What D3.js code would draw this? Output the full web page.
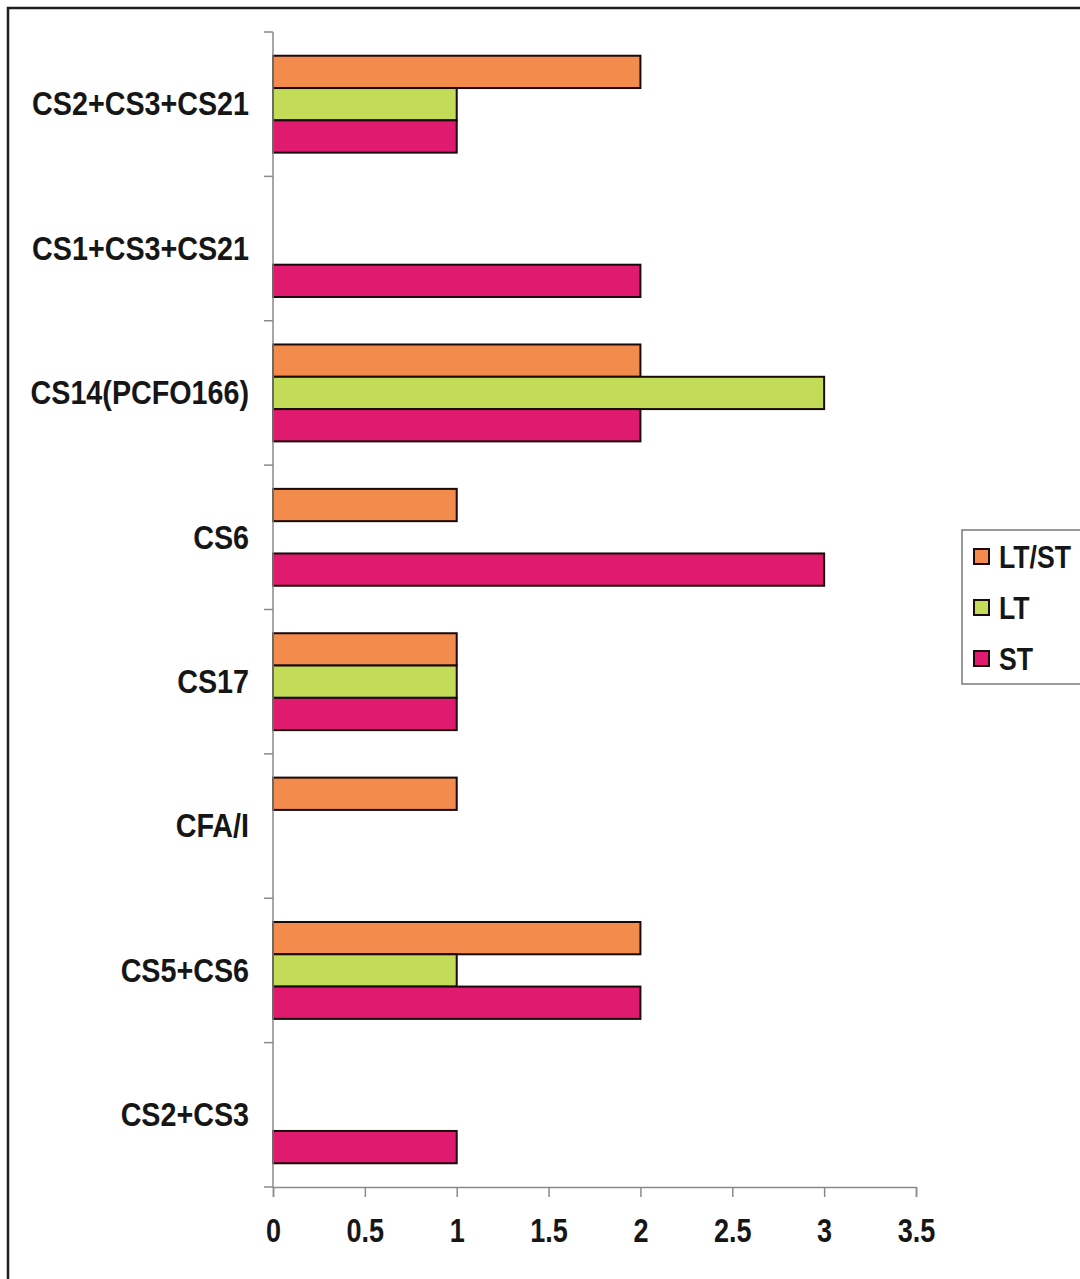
<!DOCTYPE html>
<html>
<head>
<meta charset="utf-8">
<script src="https://cdn.jsdelivr.net/npm/d3@7"></script>
<style>
  html, body { margin: 0; padding: 0; background: #fff; }
  svg { display: block; }
  text { font-family: "Liberation Sans", Arial, sans-serif; fill: #161616; font-weight: bold; }
</style>
</head>
<body>
<div id="chart"></div>
<script>
// Categories, top to bottom
const categories = ["CS2+CS3+CS21", "CS1+CS3+CS21", "CS14(PCFO166)", "CS6", "CS17", "CFA/I", "CS5+CS6", "CS2+CS3"];
// Series, drawn top to bottom inside each category
const seriesNames = ["LT/ST", "LT", "ST"];
const ltstValues = [2, 0, 2, 1, 1, 1, 2, 0];
const ltValues   = [1, 0, 3, 0, 1, 0, 1, 0];
const stValues   = [1, 2, 2, 3, 1, 0, 2, 1];
const xTicks = [0, 0.5, 1, 1.5, 2, 2.5, 3, 3.5];
const seriesColors = ["#f38b4c", "#c3dc58", "#e01a6e"];

const seriesValues = [ltstValues, ltValues, stValues];
const rows = categories.map((c, i) => ({
  category: c,
  values: seriesNames.map((s, k) => ({ series: s, value: seriesValues[k][i], color: seriesColors[k] }))
}));

const W = 1080, H = 1279;
const plot = { left: 273, right: 916, top: 32, bottom: 1187 };

const svg = d3.select("#chart").append("svg")
  .attr("width", W).attr("height", H);

svg.append("rect").attr("width", W).attr("height", H).attr("fill", "#fff");

// Outer frame
svg.append("rect")
  .attr("x", 8).attr("y", 8).attr("width", W + 20).attr("height", H + 20)
  .attr("fill", "none").attr("stroke", "#1e1e1e").attr("stroke-width", 2.5);

const x = d3.scaleLinear().domain([0, 3.5]).range([plot.left, plot.right]);
const y0 = d3.scaleBand().domain(categories).range([plot.top, plot.bottom]).paddingInner(0).paddingOuter(0);
const y1 = d3.scaleBand().domain(seriesNames).range([0, y0.bandwidth()]).paddingInner(0).paddingOuter(0.735);

// Bars
const groups = svg.append("g").selectAll("g")
  .data(rows).join("g")
  .attr("transform", d => `translate(0,${y0(d.category)})`);

groups.selectAll("rect")
  .data(d => d.values.filter(v => v.value > 0))
  .join("rect")
  .attr("x", x(0))
  .attr("y", v => y1(v.series))
  .attr("width", v => x(v.value) - x(0))
  .attr("height", y1.bandwidth())
  .attr("fill", v => v.color)
  .attr("stroke", "#1a0a0a")
  .attr("stroke-width", 2);

// Category axis: line with ticks on band boundaries
const catAxis = svg.append("g");
catAxis.append("line")
  .attr("x1", x(0)).attr("x2", x(0))
  .attr("y1", plot.top).attr("y2", plot.bottom)
  .attr("stroke", "#8a8a8a").attr("stroke-width", 1.5);
const boundaries = categories.map(c => y0(c)).concat([y0.range()[1]]);
catAxis.selectAll("line.tick")
  .data(boundaries).join("line")
  .attr("class", "tick")
  .attr("x1", x(0) - 9).attr("x2", x(0))
  .attr("y1", d => d).attr("y2", d => d)
  .attr("stroke", "#8a8a8a").attr("stroke-width", 1.5);
catAxis.selectAll("text")
  .data(categories).join("text")
  .attr("transform", c => `translate(249,${y0(c) + y0.bandwidth() / 2}) scale(0.87,1)`)
  .attr("text-anchor", "end")
  .attr("dominant-baseline", "central")
  .attr("font-size", 33)
  .text(c => c);

// Value axis
const xAxis = svg.append("g")
  .attr("transform", `translate(0,${plot.bottom})`)
  .call(d3.axisBottom(x).tickValues(xTicks).tickSize(10).tickPadding(22).tickFormat(d => String(d)));
xAxis.select(".domain").attr("stroke", "#8a8a8a").attr("stroke-width", 1.5);
xAxis.selectAll(".tick line").attr("stroke", "#8a8a8a").attr("stroke-width", 1.5);
xAxis.selectAll(".tick text")
  .attr("font-size", 33)
  .attr("font-family", "Liberation Sans, Arial, sans-serif")
  .attr("font-weight", "bold")
  .attr("fill", "#161616")
  .attr("transform", "scale(0.82,1)")
  .attr("dy", "0.71em");

// Legend
const legend = svg.append("g").attr("transform", "translate(962,530)");
legend.append("rect")
  .attr("width", 140).attr("height", 154)
  .attr("fill", "#fff").attr("stroke", "#7a7a7a").attr("stroke-width", 1.5);
const items = legend.selectAll("g.item")
  .data(seriesNames).join("g")
  .attr("class", "item")
  .attr("transform", (s, i) => `translate(12,${27 + i * 51})`);
items.append("rect")
  .attr("x", 0).attr("y", -8).attr("width", 15).attr("height", 15)
  .attr("fill", (s, i) => seriesColors[i])
  .attr("stroke", "#1a0a0a").attr("stroke-width", 2);
items.append("text")
  .attr("transform", "translate(25,0) scale(0.86,1)")
  .attr("dominant-baseline", "central")
  .attr("font-size", 31)
  .text(s => s);
</script>
</body>
</html>
